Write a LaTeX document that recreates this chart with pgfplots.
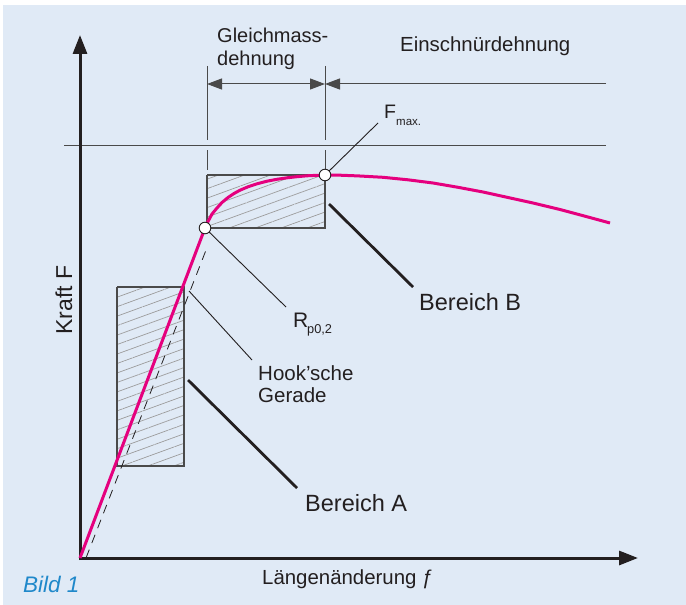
\documentclass[border=0pt]{standalone}
\usepackage{pgfplots}
\pgfplotsset{compat=1.18}
\usepackage{fontspec}
\setmainfont{Liberation Sans}
\usetikzlibrary{arrows.meta,patterns.meta}
\definecolor{bg}{HTML}{E0EAF6}
\definecolor{mag}{HTML}{E5007E}
\definecolor{ink}{HTML}{231F20}
\definecolor{lg}{HTML}{4A4A4A}
\definecolor{hatch}{HTML}{9C9C9C}
\definecolor{bildblue}{HTML}{1F88CA}
\newcommand{\fs}[1]{\fontsize{#1bp}{#1bp}\selectfont}
\begin{document}
\begin{tikzpicture}
\begin{axis}[width=686bp,height=605bp,scale only axis,
  xmin=0,xmax=686,ymin=0,ymax=605,y dir=reverse,hide axis,clip=false]
% background
\addplot[fill=white,draw=none] coordinates {(0,0)(686,0)(686,605)(0,605)};
\addplot[fill=bg,draw=none] coordinates {(3,5)(686,5)(686,605)(3,605)};
% hatched rectangles
\addplot[draw=lg,line width=1.2bp,pattern={Lines[angle=20,distance=8.9bp,line width=0.7bp]},pattern color=hatch]
  coordinates {(117,287)(184,287)(184,466)(117,466)(117,287)};
\addplot[draw=lg,line width=1.2bp,pattern={Lines[angle=20,distance=8.9bp,line width=0.7bp]},pattern color=hatch]
  coordinates {(207,175)(325,175)(325,228)(207,228)(207,175)};
% horizontal reference line (F max level)
\addplot[lg,line width=1bp] coordinates {(64,145)(606,145)};
% extension lines
\addplot[lg,line width=1bp] coordinates {(207,66)(207,140)};
\addplot[lg,line width=1bp] coordinates {(207,150)(207,170)};
\addplot[lg,line width=1bp] coordinates {(325,66)(325,140)};
\addplot[lg,line width=1bp] coordinates {(325,150)(325,170)};
% dimension arrows
\addplot[lg,line width=1bp,{Triangle[length=15bp,width=11bp]}-{Triangle[length=15bp,width=11bp]}]
  coordinates {(207,84)(325,84)};
\addplot[lg,line width=1bp,-{Triangle[length=15bp,width=11bp]}]
  coordinates {(606,84)(325,84)};
% axes
\addplot[ink,line width=3bp,-{Triangle[length=19bp,width=14bp]}] coordinates {(80,560)(80,35)};
\addplot[ink,line width=3bp,-{Triangle[length=19bp,width=14bp]}] coordinates {(78.5,558)(638,558)};
% Hooke line (dashed)
\addplot[ink,line width=0.8bp,dash pattern=on 9bp off 7bp] coordinates {(86,558)(208,245)};
% force curve
\addplot[mag,line width=3bp,line join=round] coordinates {
(80,558)(205,228)(208,221.5)(212,214)(217,208)(222,202.5)(228,197.5)(234,193.5)(240,190.2)
(248,186.8)(257,183.8)(267,181.2)(277,179.3)(287,177.8)(297,176.7)(307,175.8)(317,175.3)(325,175.1)
(340,175.2)(358,175.9)(383,177.3)(408,179.8)(433,183)(458,187.3)(483,192)(508,197.5)(533,203)
(560,209.5)(585,216.2)(610,223)};
% leader lines
\addplot[ink,line width=0.9bp] coordinates {(325,175)(378,123)};
\addplot[ink,line width=0.9bp] coordinates {(205,228)(286,307)};
\addplot[ink,line width=0.9bp] coordinates {(189,291)(252,360)};
\addplot[ink,line width=2.8bp] coordinates {(188,380)(297,488)};
\addplot[ink,line width=2.8bp] coordinates {(329,204)(413,287)};
% points
\addplot[only marks,mark=*,mark size=5.8bp,mark options={fill=white,draw=ink,line width=0.9bp}]
  coordinates {(205,228)(325,175)};
% texts
\node[anchor=base west,text=ink,font=\fs{20},inner sep=0] at (axis cs:217,43) {Gleichmass-};
\node[anchor=base west,text=ink,font=\fs{20},inner sep=0] at (axis cs:217,66) {dehnung};
\node[anchor=base west,text=ink,font=\fs{20.4},inner sep=0] at (axis cs:400,52) {Einschnürdehnung};
\node[anchor=base west,text=ink,font=\fs{19.5},inner sep=0] at (axis cs:384,118) {F};
\node[anchor=base west,text=ink,font=\fs{11.5},inner sep=0] at (axis cs:396,125) {max.};
\node[anchor=base west,text=ink,font=\fs{21},inner sep=0] at (axis cs:293,327) {R};
\node[anchor=base west,text=ink,font=\fs{12.8},inner sep=0] at (axis cs:307,333) {p0,2};
\node[anchor=base west,text=ink,font=\fs{20.5},inner sep=0] at (axis cs:258,380) {Hook’sche};
\node[anchor=base west,text=ink,font=\fs{20.5},inner sep=0] at (axis cs:258,402) {Gerade};
\node[anchor=base west,text=ink,font=\fs{23.5},inner sep=0] at (axis cs:419,310) {Bereich B};
\node[anchor=base west,text=ink,font=\fs{23.5},inner sep=0] at (axis cs:305,511) {Bereich A};
\node[anchor=base,rotate=90,text=ink,font=\fs{23},inner sep=0] at (axis cs:72,300) {Kraft F};
\node[anchor=base west,text=ink,font=\fs{20.4},inner sep=0] at (axis cs:262,584) {Längenänderung ƒ};
\node[anchor=base west,text=bildblue,font=\fs{22.5}\itshape,inner sep=0] at (axis cs:23,592) {Bild 1};
\end{axis}
\end{tikzpicture}
\end{document}
